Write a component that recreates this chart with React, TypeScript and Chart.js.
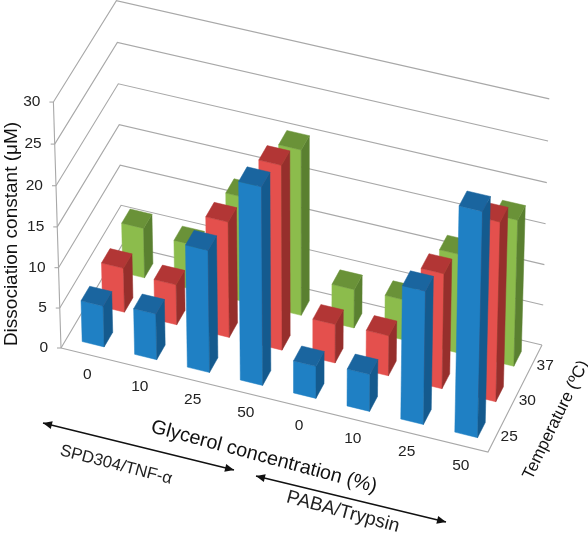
import React, { useEffect, useRef } from "react";
import { Chart, registerables, BarController } from "chart.js";

Chart.register(...registerables);

const categories = ["0", "10", "25", "50", "0", "10", "25", "50"];
const temperatures = ["25", "30", "37"];
const blue25 = [5.1, 5.7, 15.1, 24.3, 4.0, 4.6, 16.4, 27.5];
const red30 = [5.5, 5.0, 14.3, 22.7, 4.8, 5.0, 14.2, 22.0];
const green37 = [6.2, 5.6, 13.0, 20.4, 4.8, 5.0, 12.2, 18.0];

const FONT = '"Liberation Sans", Arial, sans-serif';
const BAR_FRACTION = 0.42;

// perspective camera (u along categories, v along depth, h along values; all 0..1)
const cam = {
  a: 417.5, b: 63.34, c: 61, d: 95.2, e: -98.3, f: 348,
  g: -0.01947, i: 0.01917, kx: -9.2, ky: -249, kw: -0.03,
};
function project(u: number, v: number, h: number): [number, number] {
  const w = 1 + cam.g * u + cam.i * v + cam.kw * h;
  return [
    (cam.a * u + cam.b * v + cam.c + cam.kx * h) / w,
    (cam.d * u + cam.e * v + cam.f + cam.ky * h) / w,
  ];
}

function poly(ctx: CanvasRenderingContext2D, pts: [number, number][], color: string) {
  ctx.beginPath();
  pts.forEach((p, i) => (i ? ctx.lineTo(p[0], p[1]) : ctx.moveTo(p[0], p[1])));
  ctx.closePath();
  ctx.fillStyle = color;
  ctx.strokeStyle = color;
  ctx.lineWidth = 0.5;
  ctx.fill();
  ctx.stroke();
}

class Bar3DController extends BarController {
  static id = "bar3d";
  static defaults = BarController.defaults;
  static overrides = BarController.overrides;
  draw() {
    const chart: any = this.chart;
    const ctx = chart.ctx as CanvasRenderingContext2D;
    const { x, y, z } = chart.scales;
    const ds: any = this.getDataset();
    const row = temperatures.indexOf(ds.label);
    const vc = (z.getPixelForValue(row) - z.left) / z.width;
    const halfU = (BAR_FRACTION / 2) / categories.length;
    const halfV = (BAR_FRACTION / 2) / temperatures.length;
    const count = ds.data.length;
    for (let i = 0; i < count; i++) {
      const uc = (x.getPixelForValue(i) - x.left) / x.width;
      const parsed: any = this.getParsed(i);
      const h = (y.bottom - y.getPixelForValue(parsed.y)) / y.height;
      const u0 = uc - halfU, u1 = uc + halfU, v0 = vc - halfV, v1 = vc + halfV;
      poly(ctx, [project(u0, v0, 0), project(u1, v0, 0), project(u1, v0, h), project(u0, v0, h)], ds.faceColor);
      poly(ctx, [project(u1, v0, 0), project(u1, v1, 0), project(u1, v1, h), project(u1, v0, h)], ds.sideColor);
      poly(ctx, [project(u0, v0, h), project(u1, v0, h), project(u1, v1, h), project(u0, v1, h)], ds.topColor);
    }
  }
}
Chart.register(Bar3DController as any);

function arrow(ctx: CanvasRenderingContext2D, x0: number, y0: number, x1: number, y1: number) {
  ctx.strokeStyle = "#111";
  ctx.fillStyle = "#111";
  ctx.lineWidth = 1.4;
  const ang = Math.atan2(y1 - y0, x1 - x0);
  const L = 9, W = 4;
  ctx.beginPath();
  ctx.moveTo(x0, y0);
  ctx.lineTo(x1, y1);
  ctx.stroke();
  const head = (px: number, py: number, a: number) => {
    ctx.beginPath();
    ctx.moveTo(px, py);
    ctx.lineTo(px - L * Math.cos(a) + W * Math.sin(a), py - L * Math.sin(a) - W * Math.cos(a));
    ctx.lineTo(px - L * Math.cos(a) - W * Math.sin(a), py - L * Math.sin(a) + W * Math.cos(a));
    ctx.closePath();
    ctx.fill();
  };
  head(x1, y1, ang);
  head(x0, y0, ang + Math.PI);
}

function text(ctx: CanvasRenderingContext2D, s: string, x: number, y: number, size: number, deg = 0, color = "#222", align: CanvasTextAlign = "center") {
  ctx.save();
  ctx.translate(x, y);
  ctx.rotate((deg * Math.PI) / 180);
  ctx.font = `${size}px ${FONT}`;
  ctx.fillStyle = color;
  ctx.textAlign = align;
  ctx.textBaseline = "middle";
  ctx.fillText(s, 0, 0);
  ctx.restore();
}

const framePlugin = {
  id: "frame3d",
  beforeDatasetsDraw(chart: any) {
    const ctx = chart.ctx as CanvasRenderingContext2D;
    const { x, y, z } = chart.scales;
    ctx.save();
    ctx.strokeStyle = "#a8a8a8";
    ctx.lineWidth = 1.1;
    const line = (pts: [number, number][]) => {
      ctx.beginPath();
      pts.forEach((p, i) => (i ? ctx.lineTo(p[0], p[1]) : ctx.moveTo(p[0], p[1])));
      ctx.stroke();
    };
    const hs = y.ticks.map((t: any) => ({ value: t.value, h: (y.bottom - y.getPixelForValue(t.value)) / y.height }));
    hs.forEach(({ value, h }: any) => {
      line([project(0, 0, h), project(0, 1, h), project(1, 1, h)]);
      const p = project(0, 0, h);
      line([[p[0] - 4, p[1]], p]);
      text(ctx, String(value), p[0] - 13, p[1], 15.5, 0, "#222", "right");
    });
    line([project(0, 0, 0), project(0, 0, 1)]);
    line([project(0, 0, 0), project(1, 0, 0), project(1, 1, 0)]);
    categories.forEach((c, i) => {
      const u = (x.getPixelForValue(i) - x.left) / x.width;
      const p = project(u, 0, 0);
      text(ctx, c, p[0], p[1] + 20, 15.5);
    });
    temperatures.forEach((t, i) => {
      const v = (z.getPixelForValue(i) - z.left) / z.width;
      const p = project(1, v, 0);
      text(ctx, t, p[0] + 12, p[1] + 3, 15.5);
    });
    text(ctx, "Dissociation constant (μM)", 12, 234, 19, -90, "#111");
    text(ctx, "Glycerol concentration (%)", 264, 457, 19.8, 15, "#111");
    text(ctx, "Temperature (ºC)", 556, 420, 17, -64, "#111");
    text(ctx, "SPD304/TNF-α", 116, 465, 16.8, 14.5);
    text(ctx, "PABA/Trypsin", 343, 512, 19, 15);
    arrow(ctx, 43, 423, 234, 470);
    arrow(ctx, 256, 476, 446, 522);
    ctx.restore();
  },
};

export default function App() {
  const ref = useRef<HTMLCanvasElement>(null);
  useEffect(() => {
    if (!ref.current) return;
    const chart = new Chart(ref.current, {
      type: "bar3d" as any,
      data: {
        labels: categories,
        datasets: [
          { label: "25", data: blue25, faceColor: "#1f80c4", sideColor: "#145a8e", topColor: "#1a659f" },
          { label: "30", data: red30, faceColor: "#e4504d", sideColor: "#962f2c", topColor: "#b23635" },
          { label: "37", data: green37, faceColor: "#8cbc4c", sideColor: "#5a8030", topColor: "#6a9238" },
        ] as any,
      },
      options: {
        responsive: false,
        animation: false,
        layout: { padding: 0 },
        plugins: { legend: { display: false }, tooltip: { enabled: false } },
        scales: {
          x: { type: "category", display: false, offset: true },
          z: { type: "category", axis: "x", labels: temperatures, display: false, offset: true },
          y: { type: "linear", display: false, min: 0, max: 30, ticks: { stepSize: 5 } },
        } as any,
      },
      plugins: [framePlugin],
    });
    return () => chart.destroy();
  }, []);
  return (
    <div style={{ position: "absolute", left: 0, top: 0, width: 588, height: 540, background: "#fff" }}>
      <canvas ref={ref} width={588} height={540} style={{ display: "block" }} />
    </div>
  );
}
